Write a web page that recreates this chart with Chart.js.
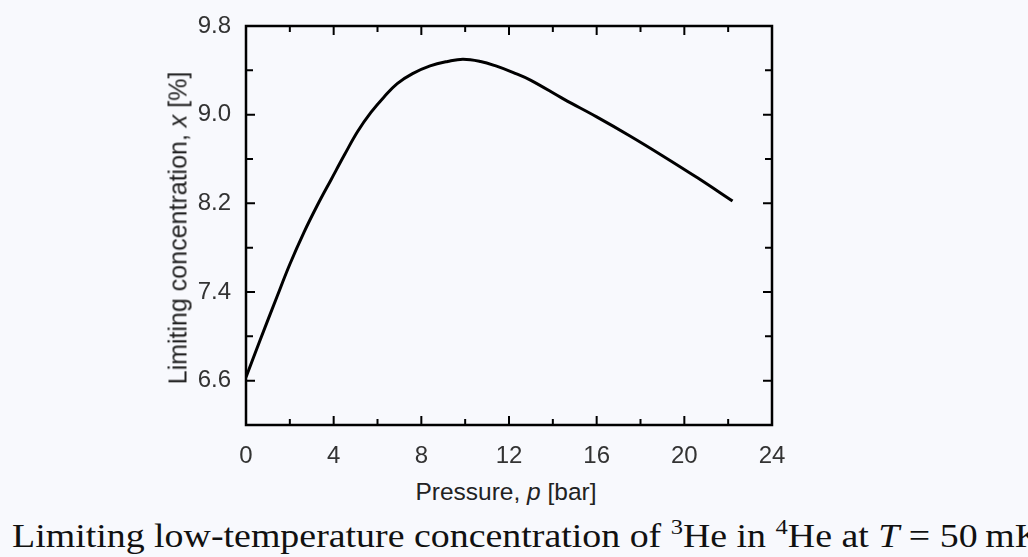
<!DOCTYPE html>
<html lang="en">
  <head>
    <meta charset="UTF-8" />
    <title>Limiting concentration of 3He in 4He</title>
    <script src="https://cdn.jsdelivr.net/npm/chart.js"></script>
    <style>
      body {
        margin: 0;
        padding: 0;
        width: 1028px;
        height: 557px;
        overflow: hidden;
        background: #f8f9fd;
        position: relative;
        font-family: "Liberation Sans", Arial, sans-serif;
      }
      #plot {
        position: absolute;
        left: 0;
        top: 0;
      }
      .ytitle {
        position: absolute;
        left: 178px;
        top: 228px;
        transform: translate(-50%, -50%) rotate(-90deg);
        white-space: nowrap;
        font-size: 25px;
        color: #222;
        line-height: 1;
      }
      .xtitle {
        position: absolute;
        left: 506px;
        top: 480px;
        transform: translateX(-50%);
        white-space: nowrap;
        font-size: 24.5px;
        color: #222;
        line-height: 1;
      }
      .caption {
        position: absolute;
        left: 12px;
        top: 519px;
        white-space: nowrap;
        font-family: "Liberation Serif", "Times New Roman", serif;
        font-size: 34px;
        color: #111;
        line-height: 1;
        transform-origin: left top;
      }
      .caption sup {
        font-size: 22px;
        vertical-align: 13px;
        line-height: 0;
      }
    </style>
  </head>
  <body>
    <canvas id="plot" width="1028" height="470"></canvas>
    <div class="ytitle">Limiting concentration, <i>x</i> [%]</div>
    <div class="xtitle">Pressure, <i>p</i> [bar]</div>
    <div class="caption" id="caption">
      Limiting low-temperature concentration of <sup>3</sup>He in
      <sup>4</sup>He at <i>T</i> = 50&#8201;mK
    </div>

    <script>
      // values
      const pressure = [
        0, 0.65, 1.4, 2.0, 2.65, 3.25, 3.9, 4.5, 5.1, 5.7, 6.3, 6.9, 7.6, 8.4,
        9.2, 9.9, 10.7, 11.4, 12.2, 13, 14.5, 16, 17.5, 19, 20.6, 22.2,
      ];
      const concentration = [
        6.63, 6.97, 7.35, 7.65, 7.94, 8.18, 8.42, 8.64, 8.85, 9.02, 9.16, 9.28,
        9.37, 9.44, 9.48, 9.5, 9.48, 9.44, 9.38, 9.31, 9.14, 8.98, 8.81, 8.63,
        8.43, 8.22,
      ];
      const xTicks = [0, 4, 8, 12, 16, 20, 24];
      const xMinorTicks = [2, 6, 10, 14, 18, 22];
      const yTicks = [6.6, 7.4, 8.2, 9.0, 9.8];
      const yMinorTicks = [7.0, 7.8, 8.6, 9.4];

      // inward ticks on all four sides plus the frame
      const frame = {
        id: "frame",
        afterDraw(chart) {
          const { ctx, chartArea: a, scales } = chart;
          ctx.save();
          ctx.strokeStyle = "#000";
          ctx.lineWidth = 2;
          const xt = (list, len) => {
            list.forEach((v) => {
              const px = scales.x.getPixelForValue(v);
              ctx.beginPath();
              ctx.moveTo(px, a.bottom);
              ctx.lineTo(px, a.bottom - len);
              ctx.moveTo(px, a.top);
              ctx.lineTo(px, a.top + len);
              ctx.stroke();
            });
          };
          const yt = (list, len) => {
            list.forEach((v) => {
              const py = scales.y.getPixelForValue(v);
              ctx.beginPath();
              ctx.moveTo(a.left, py);
              ctx.lineTo(a.left + len, py);
              ctx.moveTo(a.right, py);
              ctx.lineTo(a.right - len, py);
              ctx.stroke();
            });
          };
          xt(xTicks, 9);
          xt(xMinorTicks, 6);
          yt(yTicks, 9);
          yt(yMinorTicks, 7);
          ctx.lineWidth = 2.5;
          ctx.strokeRect(a.left, a.top, a.right - a.left, a.bottom - a.top);
          ctx.restore();
        },
      };

      const ctx = document.getElementById("plot").getContext("2d");
      new Chart(ctx, {
        type: "scatter",
        data: {
          datasets: [
            {
              data: pressure.map((p, i) => ({ x: p, y: concentration[i] })),
              showLine: true,
              borderColor: "#000",
              borderWidth: 3,
              pointRadius: 0,
              tension: 0.4,
              fill: false,
            },
          ],
        },
        options: {
          responsive: false,
          animation: false,
          layout: { padding: { top: 26, right: 256, left: 0, bottom: 0 } },
          plugins: {
            legend: { display: false },
            tooltip: { enabled: false },
          },
          scales: {
            x: {
              type: "linear",
              min: 0,
              max: 24,
              afterBuildTicks: (s) => {
                s.ticks = xTicks.map((v) => ({ value: v }));
              },
              afterFit: (s) => {
                s.height = 45;
              },
              grid: { display: false },
              border: { display: false },
              ticks: {
                color: "#333",
                padding: 9,
                maxRotation: 0,
                font: { family: "'Liberation Sans', Arial", size: 24 },
              },
            },
            y: {
              min: 6.2,
              max: 9.8,
              afterBuildTicks: (s) => {
                s.ticks = yTicks.map((v) => ({ value: v }));
              },
              afterFit: (s) => {
                s.width = 246;
              },
              grid: { display: false },
              border: { display: false },
              ticks: {
                color: "#333",
                padding: 7,
                callback: (v) => Number(v).toFixed(1),
                font: { family: "'Liberation Sans', Arial", size: 24 },
              },
            },
          },
        },
        plugins: [frame],
      });

      // stretch the caption to the width it has in the figure
      const cap = document.getElementById("caption");
      const w = cap.getBoundingClientRect().width;
      cap.style.transform = "scaleX(" + 1030 / w + ")";
    </script>
  </body>
</html>
